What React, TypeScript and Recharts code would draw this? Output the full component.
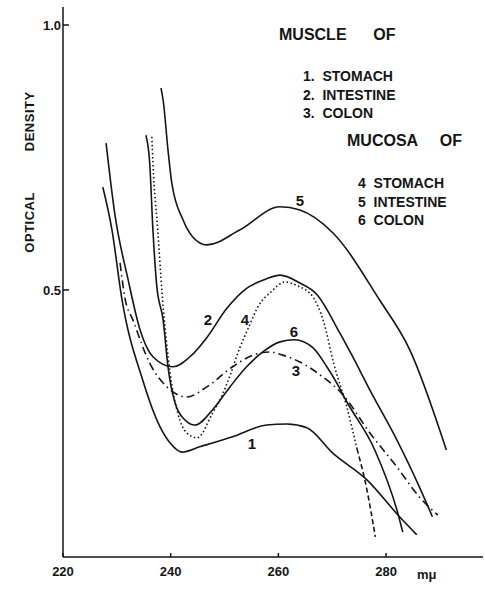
import { LineChart, Line, XAxis, YAxis } from "recharts";

// wavelength (mμ), optical density
const muscleStomach = [
  [227.4, 0.694], [229.1, 0.613], [230.9, 0.485], [234.8, 0.33], [238.0, 0.242], [239.9, 0.211],
  [242.1, 0.194], [245.4, 0.204], [251.5, 0.223], [257.8, 0.245], [261.6, 0.247], [265.3, 0.24],
  [270.1, 0.192], [276.4, 0.142], [282.5, 0.072], [285.7, 0.038],
];
const muscleIntestine = [
  [228.0, 0.777], [229.6, 0.645], [232.1, 0.519], [234.3, 0.425], [236.7, 0.374], [240.4, 0.355],
  [243.6, 0.374], [246.7, 0.41], [250.4, 0.465], [254.1, 0.503], [257.8, 0.521], [260.3, 0.528],
  [264.0, 0.513], [267.1, 0.492], [271.4, 0.419], [273.8, 0.374], [277.0, 0.311], [282.0, 0.217],
  [286.2, 0.128], [288.6, 0.072],
];
const muscleColon = [
  [230.6, 0.551], [231.5, 0.485], [233.0, 0.443], [236.1, 0.362], [239.3, 0.317], [243.0, 0.298],
  [246.7, 0.317], [251.5, 0.355], [255.3, 0.377], [258.4, 0.383], [260.8, 0.377], [264.0, 0.364],
  [267.7, 0.34], [272.0, 0.302], [277.0, 0.23], [282.0, 0.166], [286.2, 0.109], [289.6, 0.075],
];
const mucosaStomach = [
  [236.5, 0.789], [236.7, 0.74], [237.6, 0.613], [238.4, 0.494], [239.9, 0.343], [241.3, 0.268],
  [243.0, 0.23], [244.9, 0.221], [247.8, 0.268], [249.5, 0.3], [251.0, 0.338], [252.8, 0.39],
  [254.5, 0.43], [256.3, 0.47], [258.6, 0.496], [261.2, 0.515], [263.5, 0.508], [266.4, 0.487],
  [268.4, 0.44], [270.3, 0.36], [272.6, 0.283], [274.6, 0.2],
];
const mucosaStomachTail = [[274.6, 0.2], [276.4, 0.125], [278.0, 0.034]];
const mucosaIntestine = [
  [238.2, 0.881], [238.6, 0.858], [239.5, 0.764], [240.2, 0.702], [242.3, 0.632], [244.1, 0.6],
  [246.7, 0.585], [252.8, 0.613], [260.3, 0.657], [264.0, 0.651], [270.1, 0.608], [278.8, 0.481],
  [284.4, 0.387], [291.2, 0.198],
];
const mucosaColon = [
  [235.4, 0.792], [236.1, 0.74], [236.7, 0.613], [237.4, 0.509], [238.6, 0.443], [239.5, 0.355],
  [240.8, 0.287], [242.6, 0.255], [244.5, 0.245], [247.8, 0.274], [251.0, 0.317], [254.1, 0.355],
  [257.1, 0.383], [260.3, 0.402], [263.0, 0.406], [266.4, 0.391], [269.0, 0.355], [270.8, 0.325],
  [272.7, 0.289], [277.9, 0.198], [282.0, 0.085], [283.1, 0.043],
];

const xTicks = [220, 240, 260, 280];
const yTicks = [0.5, 1.0];
const muscleItems = ["1.  STOMACH", "2.  INTESTINE", "3.  COLON"];
const mucosaItems = ["4  STOMACH", "5  INTESTINE", "6  COLON"];

const INK = "#151515";
const FONT = "'Liberation Sans', Arial, sans-serif";

const series = [
  { key: "c1", pts: muscleStomach, dash: undefined },
  { key: "c2", pts: muscleIntestine, dash: undefined },
  { key: "c3", pts: muscleColon, dash: "8 4 1.5 4" },
  { key: "c4", pts: mucosaStomach, dash: "1.5 2.5" },
  { key: "c4t", pts: mucosaStomachTail, dash: "5 3" },
  { key: "c5", pts: mucosaIntestine, dash: undefined },
  { key: "c6", pts: mucosaColon, dash: undefined },
];

// curve numbers written next to the lines
const curveTags = [
  { t: "1", x: 252, y: 443 },
  { t: "2", x: 208, y: 319 },
  { t: "3", x: 296, y: 370 },
  { t: "4", x: 245, y: 319 },
  { t: "5", x: 300, y: 200 },
  { t: "6", x: 294, y: 331 },
];

function Txt({ x, y, size, children, center = false }: any) {
  return (
    <div
      style={{
        position: "absolute",
        left: x,
        top: y,
        transform: center ? "translate(-50%, -50%)" : "translateY(-50%)",
        fontFamily: FONT,
        fontWeight: 700,
        fontSize: size,
        lineHeight: 1,
        color: INK,
        whiteSpace: "pre",
      }}
    >
      {children}
    </div>
  );
}

export default function App() {
  const tickStyle = { fill: INK, fontSize: 13, fontWeight: 700, fontFamily: FONT };
  return (
    <div style={{ position: "absolute", left: 0, top: 0, width: 485, height: 589, background: "#fff" }}>
      <LineChart width={485} height={589} margin={{ top: 7, right: 2, bottom: 2, left: 13 }}>
        <XAxis
          type="number"
          dataKey="x"
          domain={[220, 298]}
          ticks={xTicks}
          allowDataOverflow
          height={30}
          tickSize={-4}
          tickMargin={14}
          stroke={INK}
          strokeWidth={1.5}
          tick={tickStyle}
        />
        <YAxis
          type="number"
          dataKey="y"
          domain={[-0.004, 1.034]}
          ticks={yTicks}
          allowDataOverflow
          width={50}
          tickSize={-6}
          tickMargin={8}
          tickFormatter={(v: number) => v.toFixed(1)}
          stroke={INK}
          strokeWidth={1.5}
          tick={tickStyle}
        />
        {series.map((s) => (
          <Line
            key={s.key}
            data={s.pts.map(([x, y]) => ({ x, y }))}
            dataKey="y"
            type="monotone"
            stroke={INK}
            strokeWidth={1.6}
            strokeDasharray={s.dash}
            dot={false}
            activeDot={false}
            isAnimationActive={false}
          />
        ))}
      </LineChart>

      <div
        style={{
          position: "absolute",
          left: 29,
          top: 172,
          transform: "translate(-50%, -50%) rotate(-90deg)",
          fontFamily: FONT,
          fontWeight: 700,
          fontSize: 13,
          color: INK,
          whiteSpace: "pre",
          letterSpacing: 0.5,
        }}
      >
        {"OPTICAL          DENSITY"}
      </div>
      <Txt x={417} y={574} size={13}>mμ</Txt>

      <Txt x={279} y={35} size={16}>{"MUSCLE      OF"}</Txt>
      {muscleItems.map((s, i) => (
        <Txt key={s} x={303} y={76 + i * 18.5} size={14}>{s}</Txt>
      ))}
      <Txt x={347} y={141} size={16}>{"MUCOSA     OF"}</Txt>
      {mucosaItems.map((s, i) => (
        <Txt key={s} x={358} y={183 + i * 18.5} size={14}>{s}</Txt>
      ))}

      {curveTags.map((c) => (
        <Txt key={c.t} x={c.x} y={c.y} size={15} center>{c.t}</Txt>
      ))}
    </div>
  );
}
